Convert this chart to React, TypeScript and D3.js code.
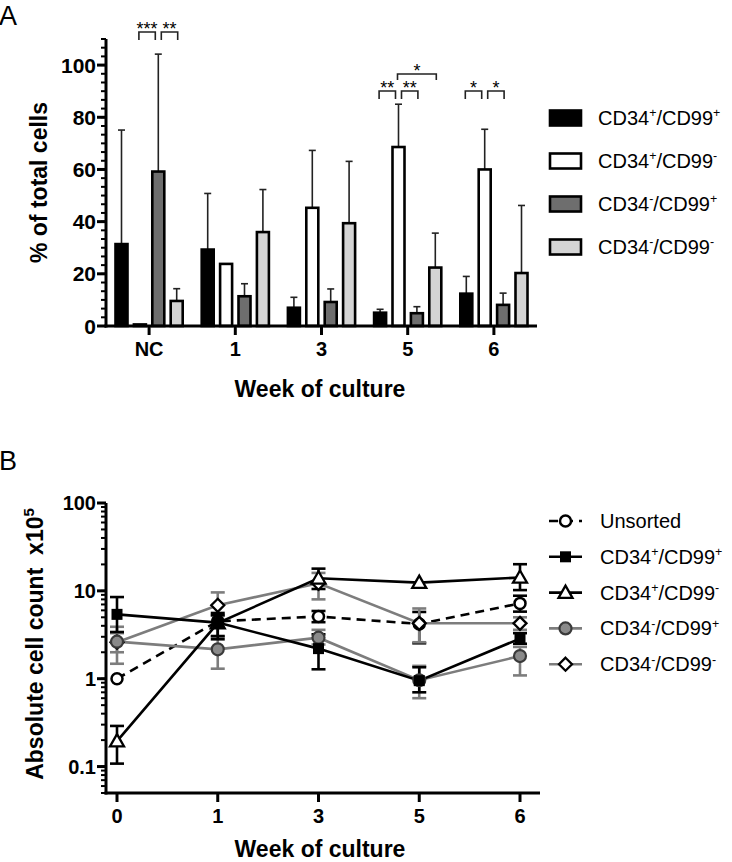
import React from "react";
import * as d3 from "d3";

// ---------- Panel A data ----------
const weeksA = ["NC", "1", "3", "5", "6"];
const cd34Signs = ["+", "+", "-", "-"];
const cd99Signs = ["+", "-", "+", "-"];
const barFills = ["#000000", "#ffffff", "#6e6e6e", "#d4d4d4"];
const meanPP = [31.4, 29.3, 7.0, 5.1, 12.4];
const topPP = [75.1, 50.8, 11.0, 6.4, 19.0];
const meanPM = [0.6, 23.8, 45.3, 68.6, 60.0];
const topPM = [0, 0, 67.3, 85.0, 75.4];
const meanMP = [59.2, 11.4, 9.2, 4.9, 8.1];
const topMP = [104.2, 16.2, 14.2, 7.4, 12.6];
const meanMM = [9.6, 36.0, 39.4, 22.4, 20.3];
const topMM = [14.3, 52.3, 63.1, 35.6, 46.2];
const barMeans = [meanPP, meanPM, meanMP, meanMM];
const barTops = [topPP, topPM, topMP, topMM];

// significance comparisons
const sigWeek = ["NC", "NC", "5", "5", "5", "6", "6"];
const sigFrom = [1, 2, 0, 1, 1, 0, 1];
const sigTo = [2, 3, 1, 2, 3, 1, 2];
const sigLabel = ["***", "**", "**", "**", "*", "*", "*"];
const sigTier = [0, 0, 1, 1, 2, 1, 1];

// ---------- Panel B data ----------
const weeksB = ["0", "1", "3", "5", "6"];
const lineNames = ["Unsorted", "CD34+/CD99+", "CD34+/CD99-", "CD34-/CD99+", "CD34-/CD99-"];
const unsortedMean = [1.0, 4.5, 5.1, 4.2, 7.2];
const unsortedLo = [1.0, 4.5, 4.4, 2.53, 5.8];
const unsortedHi = [1.0, 4.5, 5.9, 5.75, 8.8];
const sqMean = [5.4, 4.35, 2.2, 0.95, 2.86];
const sqLo = [3.4, 2.81, 1.28, 0.7, 2.5];
const sqHi = [8.5, 5.6, 3.2, 1.35, 3.3];
const triMean = [0.195, 4.3, 13.9, 12.4, 14.2];
const triLo = [0.108, 3.06, 10.5, 12.4, 10.2];
const triHi = [0.29, 5.3, 17.9, 12.4, 20.1];
const circMean = [2.64, 2.16, 2.93, 0.96, 1.81];
const circLo = [1.48, 1.3, 2.45, 0.6, 1.09];
const circHi = [3.9, 3.0, 3.6, 1.4, 2.3];
const diaMean = [2.6, 6.85, 12.2, 4.27, 4.27];
const diaLo = [2.0, 5.2, 8.0, 2.6, 3.6];
const diaHi = [3.3, 9.6, 16.0, 6.3, 5.0];

const FONT = "'Liberation Sans', Arial, Helvetica, sans-serif";
const GRAY = "#7d7d7d";

function SupLabel({ x, y, a, b, size }: { x: number; y: number; a: string; b: string; size: number }) {
  const s = size * 0.62;
  const up = size * 0.38;
  return (
    <text x={x} y={y} fontSize={size} fontFamily={FONT}>
      CD34
      <tspan dy={-up} fontSize={s}>{a}</tspan>
      <tspan dy={up}>/CD99</tspan>
      <tspan dy={-up} fontSize={s}>{b}</tspan>
    </text>
  );
}

function Marker({ kind, x, y }: { kind: string; x: number; y: number }) {
  if (kind === "circleOpen")
    return <circle cx={x} cy={y} r={5.5} fill="#fff" stroke="#000" strokeWidth={2.5} />;
  if (kind === "square")
    return <rect x={x - 5.5} y={y - 5.5} width={11} height={11} fill="#000" />;
  if (kind === "triangle") {
    const s = 7;
    return (
      <path
        d={`M${x},${y - s} L${x + s},${y + s * 0.75} L${x - s},${y + s * 0.75} Z`}
        fill="#fff"
        stroke="#000"
        strokeWidth={2.3}
        strokeLinejoin="miter"
      />
    );
  }
  if (kind === "circleGray")
    return <circle cx={x} cy={y} r={6} fill="#8a8a8a" stroke="#3a3a3a" strokeWidth={2.2} />;
  const d = 6.5;
  return (
    <path
      d={`M${x},${y - d} L${x + d},${y} L${x},${y + d} L${x - d},${y} Z`}
      fill="#fff"
      stroke="#000"
      strokeWidth={2.3}
    />
  );
}

export default function App() {
  // ---------- Panel A scales ----------
  const xA = d3.scaleBand<string>().domain(weeksA).range([106, 537]);
  const yA = d3.scaleLinear().domain([0, 110]).range([326, 39]);
  const pitch = 18.4;
  const barW = 12;
  const center = (w: string) => (xA(w) as number) + xA.bandwidth() / 2;
  const barC = (w: string, i: number) => center(w) + (i - 1.5) * pitch;
  const majorA = d3.range(0, 101, 20);
  const minorA = d3.range(0, 110.01, 20 / 6);

  // ---------- Panel B scales ----------
  const xB = d3.scalePoint<string>().domain(weeksB).range([117, 520]);
  const yB = d3.scaleLog().domain([0.05, 100]).range([793, 503]);
  const majorB = [0.1, 1, 10, 100];
  const minorB: number[] = [];
  [0.01, 0.1, 1, 10].forEach((e) => {
    for (let k = 1; k <= 9; k++) {
      const v = +(k * e).toPrecision(3);
      if (v >= 0.05 && v <= 100) minorB.push(v);
    }
  });

  const lineSeries = [
    { name: lineNames[0], mean: unsortedMean, lo: unsortedLo, hi: unsortedHi, color: "#000", dash: "9,6", marker: "circleOpen" },
    { name: lineNames[4], mean: diaMean, lo: diaLo, hi: diaHi, color: GRAY, dash: "", marker: "diamond" },
    { name: lineNames[3], mean: circMean, lo: circLo, hi: circHi, color: GRAY, dash: "", marker: "circleGray" },
    { name: lineNames[2], mean: triMean, lo: triLo, hi: triHi, color: "#000", dash: "", marker: "triangle" },
    { name: lineNames[1], mean: sqMean, lo: sqLo, hi: sqHi, color: "#000", dash: "", marker: "square" },
  ];
  const legendOrder = [0, 4, 3, 2, 1]; // indices in lineSeries: Unsorted, ++, +-, -+, --
  const lineGen = d3
    .line<number>()
    .x((_, i) => xB(weeksB[i]) as number)
    .y((d) => yB(d));

  const tierY = [32, 91, 74];
  const tierLeg = [8, 8, 6];

  return (
    <svg
      width={732}
      height={862}
      style={{ position: "absolute", left: 0, top: 0, background: "#fff" }}
      fontFamily={FONT}
    >
      <rect width={732} height={862} fill="#fff" />
      {/* ================= Panel A ================= */}
      <text x={-1} y={25} fontSize={27} fontFamily={FONT}>A</text>

      {/* bars */}
      {barMeans.map((arr, si) =>
        arr.map((v, wi) => {
          const w = weeksA[wi];
          const cx = barC(w, si);
          return (
            <g key={`b${si}-${wi}`}>
              {barTops[si][wi] > v && (
                <g stroke="#222" strokeWidth={1.6}>
                  <line x1={cx} x2={cx} y1={yA(v)} y2={yA(barTops[si][wi])} />
                  <line x1={cx - 3.5} x2={cx + 3.5} y1={yA(barTops[si][wi])} y2={yA(barTops[si][wi])} />
                </g>
              )}
              <rect
                x={cx - barW / 2}
                y={yA(v)}
                width={barW}
                height={yA(0) - yA(v)}
                fill={barFills[si]}
                stroke="#000"
                strokeWidth={2.6}
              />
            </g>
          );
        })
      )}

      {/* significance brackets */}
      {sigWeek.map((w, k) => {
        const t = sigTier[k];
        const a = sigFrom[k];
        const b = sigTo[k];
        const leftShared = sigWeek.some((w2, j) => j !== k && w2 === w && sigTier[j] === t && sigTo[j] === a);
        const rightShared = sigWeek.some((w2, j) => j !== k && w2 === w && sigTier[j] === t && sigFrom[j] === b);
        const x1 = barC(w, a) + (leftShared ? 3 : -1);
        const x2 = barC(w, b) + (rightShared ? -3 : 1);
        const y0 = tierY[t];
        return (
          <g key={`s${k}`}>
            <path
              d={`M${x1},${y0 + tierLeg[t]} V${y0} H${x2} V${y0 + tierLeg[t]}`}
              fill="none"
              stroke="#222"
              strokeWidth={1.6}
            />
            <text x={(x1 + x2) / 2} y={y0 + 3} fontSize={18} textAnchor="middle" fontFamily={FONT}>
              {sigLabel[k]}
            </text>
          </g>
        );
      })}

      {/* axes A */}
      <g stroke="#000" strokeWidth={3}>
        <line x1={106} x2={106} y1={yA(110)} y2={yA(0) + 1.5} />
        <line x1={104.5} x2={537} y1={yA(0)} y2={yA(0)} />
      </g>
      {minorA.map((v) => (
        <line key={`ma${v}`} x1={101} x2={106} y1={yA(v)} y2={yA(v)} stroke="#000" strokeWidth={2} />
      ))}
      {majorA.map((v) => (
        <g key={`MA${v}`}>
          <line x1={97} x2={106} y1={yA(v)} y2={yA(v)} stroke="#000" strokeWidth={3} />
          <text x={96} y={yA(v) + 7.5} fontSize={21} fontWeight="bold" textAnchor="end" fontFamily={FONT}>
            {v}
          </text>
        </g>
      ))}
      {weeksA.map((w) => (
        <g key={`xa${w}`}>
          <line x1={center(w)} x2={center(w)} y1={yA(0)} y2={yA(0) + 9} stroke="#000" strokeWidth={3} />
          <text x={center(w)} y={356} fontSize={20} fontWeight="bold" textAnchor="middle" fontFamily={FONT}>
            {w}
          </text>
        </g>
      ))}
      <text x={320} y={397} fontSize={23} fontWeight="bold" textAnchor="middle" fontFamily={FONT}>
        Week of culture
      </text>
      <text
        transform={`translate(47,${(yA(0) + yA(110)) / 2}) rotate(-90)`}
        fontSize={23}
        fontWeight="bold"
        textAnchor="middle"
        fontFamily={FONT}
      >
        % of total cells
      </text>

      {/* legend A */}
      {cd34Signs.map((s, i) => {
        const cy = 118 + i * 43;
        return (
          <g key={`la${i}`}>
            <rect x={550} y={cy - 7.5} width={31} height={15} fill={barFills[i]} stroke="#000" strokeWidth={2.6} />
            <SupLabel x={598} y={cy + 7} a={s} b={cd99Signs[i]} size={20} />
          </g>
        );
      })}

      {/* ================= Panel B ================= */}
      <text x={-1} y={470} fontSize={27} fontFamily={FONT}>B</text>

      {/* lines */}
      {lineSeries.map((s, si) => (
        <path
          key={`l${si}`}
          d={lineGen(s.mean) || ""}
          fill="none"
          stroke={s.color}
          strokeWidth={2.6}
          strokeDasharray={s.dash || undefined}
        />
      ))}
      {/* error bars */}
      {lineSeries.map((s, si) =>
        s.mean.map((v, i) => {
          const x = xB(weeksB[i]) as number;
          const lo = s.lo[i];
          const hi = s.hi[i];
          return (
            <g key={`e${si}-${i}`} stroke={s.color} strokeWidth={2.6}>
              {hi > v && (
                <>
                  <line x1={x} x2={x} y1={yB(v)} y2={yB(hi)} />
                  <line x1={x - 7} x2={x + 7} y1={yB(hi)} y2={yB(hi)} />
                </>
              )}
              {lo < v && (
                <>
                  <line x1={x} x2={x} y1={yB(v)} y2={yB(lo)} />
                  <line x1={x - 7} x2={x + 7} y1={yB(lo)} y2={yB(lo)} />
                </>
              )}
            </g>
          );
        })
      )}
      {/* markers */}
      {lineSeries.map((s, si) =>
        s.mean.map((v, i) => (
          <Marker key={`m${si}-${i}`} kind={s.marker} x={xB(weeksB[i]) as number} y={yB(v)} />
        ))
      )}

      {/* axes B */}
      <g stroke="#000" strokeWidth={3}>
        <line x1={106} x2={106} y1={yB(100)} y2={yB(0.05) + 1.5} />
        <line x1={104.5} x2={540} y1={yB(0.05)} y2={yB(0.05)} />
      </g>
      {minorB.map((v) => (
        <line key={`mb${v}`} x1={101} x2={106} y1={yB(v)} y2={yB(v)} stroke="#000" strokeWidth={2} />
      ))}
      {majorB.map((v) => (
        <g key={`MB${v}`}>
          <line x1={97} x2={106} y1={yB(v)} y2={yB(v)} stroke="#000" strokeWidth={3} />
          <text x={96} y={yB(v) + 7} fontSize={20} fontWeight="bold" textAnchor="end" fontFamily={FONT}>
            {v}
          </text>
        </g>
      ))}
      {weeksB.map((w) => (
        <g key={`xb${w}`}>
          <line
            x1={xB(w) as number}
            x2={xB(w) as number}
            y1={yB(0.05)}
            y2={yB(0.05) + 9}
            stroke="#000"
            strokeWidth={3}
          />
          <text x={xB(w) as number} y={823} fontSize={20} fontWeight="bold" textAnchor="middle" fontFamily={FONT}>
            {w}
          </text>
        </g>
      ))}
      <text x={320} y={857} fontSize={23} fontWeight="bold" textAnchor="middle" fontFamily={FONT}>
        Week of culture
      </text>
      <text
        transform={`translate(43,${(yB(100) + yB(0.05)) / 2 - 4}) rotate(-90)`}
        fontSize={23}
        fontWeight="bold"
        textAnchor="middle"
        fontFamily={FONT}
      >
        Absolute cell count{"\u00a0\u00a0"}x10
        <tspan dy={-9} fontSize={15}>5</tspan>
      </text>

      {/* legend B */}
      {legendOrder.map((idx, r) => {
        const s = lineSeries[idx];
        const cy = 521 + r * 35.8;
        const name = s.name;
        return (
          <g key={`lb${r}`}>
            <line
              x1={549}
              x2={582}
              y1={cy}
              y2={cy}
              stroke={s.color}
              strokeWidth={2.6}
              strokeDasharray={s.dash ? "9,6" : undefined}
            />
            <Marker kind={s.marker} x={565.5} y={cy} />
            {name === "Unsorted" ? (
              <text x={600} y={cy + 7} fontSize={20} fontFamily={FONT}>Unsorted</text>
            ) : (
              <SupLabel x={600} y={cy + 7} a={name[4]} b={name[10]} size={20} />
            )}
          </g>
        );
      })}
    </svg>
  );
}
